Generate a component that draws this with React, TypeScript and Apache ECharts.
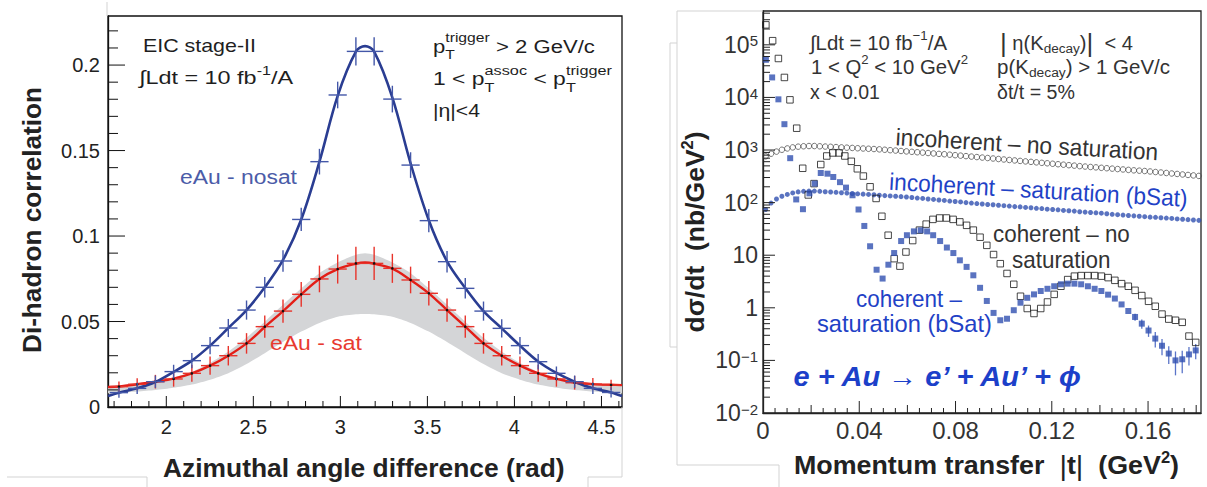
import React, { useEffect, useRef } from 'react';
import * as echarts from 'echarts';

const FONT = '"Liberation Sans", Arial, Helvetica, sans-serif';
const BLUE_TEXT = '#1f42c6';
const BLUE_MARK = '#3150b0';

// ---------------- Left panel: di-hadron correlation ----------------
const LX_MIN = 1.665;
const LX_MAX = 4.618;
const LY_MAX = 0.2287;
const BIN_HALF = 0.0524;

const phiBins = [1.7279, 1.8326, 1.9373, 2.042, 2.1468, 2.2515, 2.3562, 2.4609, 2.5656, 2.6704, 2.7751, 2.8798, 2.9845, 3.0892,
  3.194, 3.2987, 3.4034, 3.5081, 3.6128, 3.7176, 3.8223, 3.927, 4.0317, 4.1364, 4.2412, 4.3459, 4.4506, 4.5553];

const nosatValues = [0.0084, 0.0109, 0.0148, 0.0207, 0.0271, 0.0359, 0.0462, 0.0567, 0.07, 0.0854, 0.1097, 0.1435, 0.1825, 0.208,
  0.208, 0.1801, 0.1415, 0.109, 0.085, 0.0694, 0.0561, 0.046, 0.0359, 0.0265, 0.0197, 0.0148, 0.0109, 0.0085];
const nosatErrors = [0.003, 0.0033, 0.0036, 0.004, 0.0045, 0.005, 0.0053, 0.0056, 0.006, 0.0063, 0.0068, 0.0075, 0.0078, 0.0082,
  0.0082, 0.0078, 0.0075, 0.0068, 0.0063, 0.006, 0.0056, 0.0053, 0.005, 0.0045, 0.004, 0.0036, 0.0033, 0.003];
const satValues = [0.0119, 0.0133, 0.0148, 0.0164, 0.0197, 0.0242, 0.03, 0.0372, 0.047, 0.0561, 0.0659, 0.0749, 0.0807, 0.084,
  0.084, 0.0811, 0.0743, 0.0665, 0.0567, 0.047, 0.0372, 0.03, 0.0242, 0.0197, 0.0164, 0.0142, 0.0134, 0.0129];
const satErrors = [0.003, 0.0035, 0.004, 0.0045, 0.005, 0.0053, 0.0057, 0.006, 0.0065, 0.0068, 0.0072, 0.0078, 0.0085, 0.0097,
  0.0097, 0.0085, 0.0078, 0.0072, 0.0068, 0.0065, 0.006, 0.0057, 0.0053, 0.005, 0.0045, 0.004, 0.0035, 0.003];

// fit curves and band sampled at: left edge, bins 0-13, pi, bins 14-27, right edge
const curveX = [LX_MIN, ...phiBins.slice(0, 14), Math.PI, ...phiBins.slice(14), LX_MAX];
const nosatFit = [0.0064, 0.0084, 0.0109, 0.0146, 0.0205, 0.0271, 0.0359, 0.0462, 0.0567, 0.07, 0.086, 0.1097, 0.1435, 0.182, 0.2078,
  0.2111, 0.2078, 0.181, 0.1425, 0.1092, 0.0852, 0.0696, 0.0561, 0.046, 0.0359, 0.0266, 0.0199, 0.0148, 0.0109, 0.0085, 0.0064];
const satFit = [0.0117, 0.012, 0.0133, 0.0148, 0.0166, 0.0197, 0.0242, 0.03, 0.0372, 0.0468, 0.0561, 0.0659, 0.0749, 0.0807, 0.0838,
  0.0845, 0.0838, 0.0809, 0.0743, 0.0665, 0.0567, 0.047, 0.0372, 0.03, 0.0242, 0.0197, 0.0164, 0.0143, 0.0134, 0.013, 0.0128];
const bandLow = [0.008, 0.0083, 0.009, 0.0099, 0.0112, 0.0131, 0.016, 0.0198, 0.0252, 0.0315, 0.038, 0.0441, 0.0492, 0.0528, 0.0542,
  0.0544, 0.0542, 0.0528, 0.0492, 0.0441, 0.038, 0.0315, 0.0252, 0.0198, 0.016, 0.0131, 0.0112, 0.0099, 0.009, 0.0083, 0.008];
const bandHigh = [0.0121, 0.0125, 0.0137, 0.0152, 0.0172, 0.0207, 0.0258, 0.0324, 0.0405, 0.0499, 0.0598, 0.0694, 0.0783, 0.0845, 0.089,
  0.0899, 0.089, 0.0845, 0.0783, 0.0694, 0.0598, 0.0499, 0.0405, 0.0324, 0.0258, 0.0207, 0.0172, 0.0152, 0.0137, 0.0127, 0.0124];

const leftXMajor = [2, 2.5, 3, 3.5, 4, 4.5];
const leftYMajor = [0.05, 0.1, 0.15, 0.2];

// ---------------- Right panel: d sigma / dt ----------------
const RX_MAX = 0.182;
const RY_MIN = 0.01;
const RY_MAX = 4.4e5;

const incStart = 0.0011;
const incStep = 0.00225;
const incNoSat = [759, 851, 933, 1012, 1072, 1122, 1159, 1180, 1191, 1191,
  1178, 1164, 1151, 1138, 1122, 1109, 1096, 1081, 1069, 1057,
  1045, 1030, 1012, 993, 977, 959, 942, 925, 908, 893,
  877, 861, 845, 832, 815, 798, 782, 766, 750, 735,
  719, 705, 690, 675, 661, 647, 634, 621, 608, 596,
  583, 571, 560, 548, 537, 526, 515, 505, 494, 485,
  476, 468, 459, 451, 443, 435, 427, 419, 411, 405,
  399, 391, 382, 374, 366, 358, 351, 343, 336, 329, 322];
const incSat = [74, 98, 117, 132, 143, 153, 160, 164, 166, 166,
  164, 161, 159, 157, 154, 152, 149, 147, 145, 143,
  141, 138, 136, 134, 132, 130, 128, 125, 122, 120,
  117, 115, 112, 110, 107, 105, 103, 100, 98, 96,
  94, 92, 91, 89, 87.5, 86, 84, 83, 81, 80,
  78, 77, 75, 74, 73, 71, 70, 69, 67, 66,
  65, 64, 63, 61.5, 60, 59, 58, 57, 56, 55,
  54, 53, 52.5, 51.6, 50.8, 50, 49, 48.3, 47.5, 46.8, 46];

const cohNoSatT = [0.0012, 0.004, 0.0064, 0.0089, 0.0112, 0.014, 0.0165, 0.0188, 0.0212, 0.024, 0.0265, 0.029, 0.0316, 0.034, 0.0367,
  0.0392, 0.0417, 0.0445, 0.047, 0.0494, 0.052, 0.0545, 0.0569, 0.0594, 0.0622, 0.065, 0.0678, 0.0706, 0.0734, 0.0762, 0.079, 0.0818,
  0.0846, 0.0874, 0.0902, 0.093, 0.0958, 0.0986, 0.1014, 0.1042, 0.107, 0.1098, 0.1126, 0.1154, 0.1182, 0.121, 0.1238, 0.1266,
  0.1294, 0.1322, 0.135, 0.1378, 0.1406, 0.1434, 0.1462, 0.149, 0.1518, 0.1546, 0.1574, 0.1602, 0.163, 0.1658, 0.1686, 0.1714,
  0.1742, 0.177, 0.1798];
const cohNoSatV = [240000, 120000, 55000, 24000, 9000, 2600, 450, 140, 230, 530, 770, 880, 880, 770, 610, 440, 320, 200, 120, 55,
  24, 8.6, 6.2, 11.5, 19, 30, 39, 48, 51, 51, 48, 43, 37, 30, 22, 15.4, 10.3, 6.9, 4.5, 2.8, 1.66, 0.97, 0.78, 0.97, 1.29, 1.8,
  2.57, 3.44, 4.0, 4.1, 4.1, 4.1, 4.0, 3.75, 3.33, 2.88, 2.57, 2.15, 1.71, 1.33, 1.07, 0.76, 0.61, 0.58, 0.53, 0.29, 0.22];

const cohSatT = [0.0012, 0.0038, 0.0064, 0.0089, 0.0113, 0.0138, 0.0166, 0.0193, 0.0215, 0.024, 0.0268, 0.0292, 0.032, 0.0345,
  0.0372, 0.0397, 0.0421, 0.0445, 0.0472, 0.0497, 0.0521, 0.0545, 0.0574, 0.0598, 0.0627, 0.0655, 0.0682, 0.0707, 0.0736, 0.0764,
  0.0791, 0.0818, 0.0846, 0.0874, 0.0902, 0.093, 0.0958, 0.0986, 0.1014, 0.1042, 0.107, 0.1098, 0.1126, 0.1154, 0.1182, 0.121,
  0.1238, 0.1266, 0.1294, 0.1322, 0.135, 0.1378, 0.1406, 0.1434, 0.1462, 0.149, 0.1518, 0.1546, 0.1574, 0.1602, 0.163, 0.1658,
  0.1686, 0.1714, 0.1742, 0.177, 0.1798];
const cohSatV = [52000, 24000, 9200, 3100, 700, 115, 75, 150, 230, 366, 355, 307, 245, 193, 138, 74, 36, 14.8, 5.3, 3.6, 6.6, 11,
  18.6, 24, 28.4, 29.7, 28.4, 24, 18.6, 14, 11, 8, 6, 4.15, 2.4, 1.35, 0.8, 0.58, 0.62, 0.9, 1.25, 1.55, 1.8, 2.09, 2.3, 2.57, 2.8,
  2.88, 2.88, 2.8, 2.57, 2.3, 2.09, 1.78, 1.5, 1.16, 0.87, 0.67, 0.5, 0.37, 0.26, 0.19, 0.135, 0.1, 0.105, 0.13, 0.155];
// error bars of the last ten coherent-saturation points
const cohSatErrTail = [0.1, 0.1, 0.09, 0.085, 0.065, 0.05, 0.048, 0.048, 0.05, 0.05];

const rightXMajor = [0.04, 0.08, 0.12, 0.16];
const rightXMedium = [0.02, 0.06, 0.1, 0.14, 0.18];
const rightYMajorExp = [-1, 0, 1, 2, 3, 4, 5];

// ---------------- helpers ----------------
let ctx: CanvasRenderingContext2D | null = null;
function measure(text: string, size: number, weight = 'normal', style = 'normal') {
  if (!ctx) ctx = document.createElement('canvas').getContext('2d');
  ctx!.font = `${style} ${weight} ${size}px ${FONT}`;
  return ctx!.measureText(text).width;
}

type Piece = { t?: string; sup?: string; sub?: string; size?: number; ss?: number; supDy?: number; subDy?: number; weight?: string; style?: string; color?: string; dy?: number };
interface LineOpts { x: number; y: number; pieces: Piece[]; size: number; color: string; weight?: string; style?: string; width?: number; center?: boolean; rotation?: number }

function mkText(text: string, x: number, y: number, size: number, weight: string, style: string, color: string) {
  return {
    type: 'text', x, y, z: 50, silent: true,
    style: { text, fontSize: size, fontFamily: FONT, fontWeight: weight, fontStyle: style, fill: color,
      textAlign: 'left', textVerticalAlign: 'middle', align: 'left', verticalAlign: 'middle' },
  };
}

function textLine(o: LineOpts) {
  const kids: any[] = [];
  let cx = 0;
  for (const p of o.pieces) {
    const w = p.weight ?? o.weight ?? 'normal';
    const s = p.style ?? o.style ?? 'normal';
    const col = p.color ?? o.color;
    if (p.t !== undefined) {
      const sz = p.size ?? o.size;
      kids.push(mkText(p.t, cx, p.dy ?? 0, sz, w, s, col));
      cx += measure(p.t, sz, w, s);
    } else {
      const ss = p.ss ?? o.size * 0.7;
      let adv = 0;
      if (p.sup) { kids.push(mkText(p.sup, cx, p.supDy ?? -o.size * 0.45, ss, w, s, col)); adv = Math.max(adv, measure(p.sup, ss, w, s)); }
      if (p.sub) { kids.push(mkText(p.sub, cx, p.subDy ?? o.size * 0.42, ss, w, s, col)); adv = Math.max(adv, measure(p.sub, ss, w, s)); }
      cx += adv;
    }
  }
  if (o.center) kids.forEach((k) => { k.x -= cx / 2; });
  return { type: 'group', x: o.x, y: o.y, rotation: o.rotation ?? 0, scaleX: o.width ? o.width / cx : 1, z: 50, silent: true, children: kids };
}

function tickSeries(xi: number, yi: number, values: number[], axis: 'x' | 'y', base: number, len: number, color: string) {
  return {
    type: 'custom', xAxisIndex: xi, yAxisIndex: yi, silent: true, clip: false, z: 6,
    data: values.map((v) => (axis === 'x' ? [v, base] : [base, v])),
    encode: { x: 0, y: 1 },
    renderItem: (_p: any, api: any) => {
      const pt = api.coord([api.value(0), api.value(1)]);
      const shape = axis === 'x'
        ? { x1: pt[0], y1: pt[1], x2: pt[0], y2: pt[1] - len }
        : { x1: pt[0], y1: pt[1], x2: pt[0] + len, y2: pt[1] };
      return { type: 'line', shape, style: { stroke: color, lineWidth: 1 } };
    },
  };
}

function crossSeries(values: number[], errors: number[], color: string, dot: boolean) {
  return {
    type: 'custom', xAxisIndex: 0, yAxisIndex: 0, silent: true, z: 4,
    data: phiBins.map((x, i) => [x, values[i], errors[i]]),
    encode: { x: 0, y: 1 },
    renderItem: (_p: any, api: any) => {
      const x = api.value(0), y = api.value(1), e = api.value(2);
      const c = api.coord([x, y]);
      const l = api.coord([x - BIN_HALF, y]);
      const r = api.coord([x + BIN_HALF, y]);
      const t = api.coord([x, y + e]);
      const b = api.coord([x, y - e]);
      const st = { stroke: color, lineWidth: 1.4 };
      const children: any[] = [
        { type: 'line', shape: { x1: l[0], y1: c[1], x2: r[0], y2: c[1] }, style: st },
        { type: 'line', shape: { x1: c[0], y1: t[1], x2: c[0], y2: b[1] }, style: st },
      ];
      if (dot) children.push({ type: 'circle', shape: { cx: c[0], cy: c[1], r: 1.3 }, style: { fill: '#111' } });
      return { type: 'group', children };
    },
  };
}

function bandSeries() {
  return {
    type: 'custom', xAxisIndex: 0, yAxisIndex: 0, silent: true, clip: true, z: 1,
    data: [[curveX[0], bandLow[0]]],
    encode: { x: 0, y: 1 },
    renderItem: (_p: any, api: any) => {
      const upper = curveX.map((x, i) => api.coord([x, bandHigh[i]]));
      const lower = curveX.map((x, i) => api.coord([x, bandLow[i]])).reverse();
      return {
        type: 'group',
        children: [
          { type: 'polygon', shape: { points: [...upper, ...lower], smooth: 0.25 }, style: { fill: '#d4d5d7' } },
        ],
      };
    },
  };
}

function buildOption() {
  const leftXMinor: number[] = [];
  for (let i = 17; i <= 46; i++) if (i % 5 !== 0) leftXMinor.push(i / 10);
  const leftYMinor: number[] = [];
  for (let i = 1; i <= 22; i++) if (i % 5 !== 0) leftYMinor.push(i / 100);
  const rightXMinor: number[] = [];
  for (let i = 1; i <= 36; i++) if (i % 4 !== 0) rightXMinor.push(i * 0.005);
  const rightYMajor = rightYMajorExp.map((e) => Math.pow(10, e));
  const rightYMinor: number[] = [];
  for (let e = -2; e <= 5; e++) for (let m = 2; m <= 9; m++) { const v = m * Math.pow(10, e); if (v < RY_MAX) rightYMinor.push(v); }

  const incT = incNoSat.map((_, i) => incStart + i * incStep);
  const errOffset = cohSatV.length - cohSatErrTail.length;

  const axisLineL = { show: true, onZero: false, lineStyle: { color: '#111', width: 1.3 } };
  const axisLineR = { show: true, onZero: false, lineStyle: { color: '#222', width: 1.3 } };

  const graphic: any[] = [];
  // left annotations
  const LC = '#1e1e1e';
  graphic.push(textLine({ x: 143, y: 45, pieces: [{ t: 'EIC stage-II' }], size: 19, color: LC, width: 113 }));
  graphic.push(textLine({ x: 139, y: 78, pieces: [{ t: '\u222BLdt = 10 fb' }, { sup: '-1', ss: 13, supDy: -7 }, { t: '/A' }], size: 19, color: LC, width: 154 }));
  graphic.push(textLine({ x: 433, y: 46, pieces: [{ t: 'p' }, { sup: 'trigger', sub: 'T', ss: 13.5, supDy: -9, subDy: 8 }, { t: ' > 2 GeV/c' }], size: 19, color: LC, width: 162 }));
  graphic.push(textLine({ x: 433, y: 78, pieces: [{ t: '1 < p' }, { sup: 'assoc', sub: 'T', ss: 13.5, supDy: -8, subDy: 9 }, { t: ' < p' }, { sup: 'trigger', sub: 'T', ss: 13.5, supDy: -8, subDy: 9 }], size: 19, color: LC, width: 179 }));
  graphic.push(textLine({ x: 433, y: 110, pieces: [{ t: '|\u03B7|<4' }], size: 19, color: LC, width: 47 }));
  graphic.push(textLine({ x: 180, y: 178, pieces: [{ t: 'eAu - nosat' }], size: 19.5, color: '#4b5ca8', width: 117 }));
  graphic.push(textLine({ x: 270, y: 344, pieces: [{ t: 'eAu - sat' }], size: 19.5, color: '#e83a30', width: 92 }));
  graphic.push(textLine({ x: 32, y: 220, pieces: [{ t: 'Di-hadron correlation' }], size: 25.5, weight: 'bold', color: '#222', width: 266, center: true, rotation: Math.PI / 2 }));
  graphic.push(textLine({ x: 364, y: 468, pieces: [{ t: 'Azimuthal angle difference (rad)' }], size: 25.5, weight: 'bold', color: '#222', width: 402, center: true }));

  // right annotations
  const RC = '#333';
  graphic.push(textLine({ x: 810, y: 43, pieces: [{ t: '\u222BLdt = 10 fb' }, { sup: '\u22121', ss: 13, supDy: -7 }, { t: '/A' }], size: 20, color: RC, width: 137 }));
  graphic.push(textLine({ x: 811, y: 67, pieces: [{ t: '1 < Q' }, { sup: '2', ss: 13, supDy: -7 }, { t: ' < 10 GeV' }, { sup: '2', ss: 13, supDy: -7 }], size: 20, color: RC, width: 157 }));
  graphic.push(textLine({ x: 810, y: 92, pieces: [{ t: 'x < 0.01' }], size: 20, color: RC, width: 70 }));
  graphic.push(textLine({ x: 1000, y: 43, pieces: [{ t: '|', size: 26 }, { t: ' \u03B7(K' }, { sub: 'decay', ss: 13.5, subDy: 6 }, { t: ')' }, { t: '|', size: 26 }, { t: '  < 4' }], size: 20, color: RC, width: 133 }));
  graphic.push(textLine({ x: 997, y: 67, pieces: [{ t: 'p(K' }, { sub: 'decay', ss: 13.5, subDy: 6 }, { t: ') > 1 GeV/c' }], size: 20, color: RC, width: 173 }));
  graphic.push(textLine({ x: 997, y: 92, pieces: [{ t: '\u03B4t/t = 5%' }], size: 20, color: RC, width: 78 }));
  graphic.push(textLine({ x: 1027, y: 144.5, pieces: [{ t: 'incoherent \u2013 no saturation' }], size: 24, color: RC, width: 263, center: true, rotation: -0.057 }));
  graphic.push(textLine({ x: 1038.5, y: 190, pieces: [{ t: 'incoherent \u2013 saturation (bSat)' }], size: 24, color: BLUE_TEXT, width: 299, center: true, rotation: -0.057 }));
  graphic.push(textLine({ x: 993, y: 234, pieces: [{ t: 'coherent \u2013 no' }], size: 24, color: RC, width: 137 }));
  graphic.push(textLine({ x: 1012, y: 260, pieces: [{ t: 'saturation' }], size: 24, color: RC, width: 98.5 }));
  graphic.push(textLine({ x: 856, y: 299, pieces: [{ t: 'coherent \u2013' }], size: 24, color: BLUE_TEXT, width: 106 }));
  graphic.push(textLine({ x: 817, y: 323, pieces: [{ t: 'saturation (bSat)' }], size: 24, color: BLUE_TEXT, width: 175 }));
  graphic.push(textLine({ x: 793.5, y: 377, pieces: [{ t: 'e + Au \u2192 e\u2019 + Au\u2019 + \u03D5' }], size: 27, weight: 'bold', style: 'italic', color: '#1c40c9', width: 292 }));
  graphic.push(textLine({ x: 695, y: 232, pieces: [{ t: 'd\u03C3/dt  (nb/GeV' }, { sup: '2', ss: 16, supDy: -8 }, { t: ')' }], size: 26, weight: 'bold', color: '#222', width: 201, center: true, rotation: Math.PI / 2 }));
  graphic.push(textLine({ x: 794, y: 465, pieces: [{ t: 'Momentum transfer  ' }, { t: '|', size: 28, weight: 'normal' }, { t: 't' }, { t: '|', size: 28, weight: 'normal' }, { t: '  (GeV' }, { sup: '2', ss: 16, supDy: -8 }, { t: ')' }], size: 26, weight: 'bold', color: '#222', width: 385 }));

  // faint slide frame lines
  const faint = [
    [107, 2, 107, 16], [7, 477, 147, 477], [147, 477, 147, 487],
    [622, 407, 622, 477], [588, 477, 622, 477], [588, 477, 588, 487],
    [677, 11, 763, 11], [677, 11, 677, 465], [677, 465, 779, 465], [779, 465, 779, 487],
    [670, 43, 670, 347], [670, 43, 677, 43], [670, 347, 677, 347],
  ];
  faint.forEach(([x1, y1, x2, y2]) => graphic.push({ type: 'line', z: 1, silent: true, shape: { x1, y1, x2, y2 }, style: { stroke: '#d3d3d3', lineWidth: 1 } }));

  const lineBase = { type: 'line', xAxisIndex: 0, yAxisIndex: 0, symbol: 'none', silent: true, smooth: 0.35 };

  return {
    animation: false,
    backgroundColor: '#ffffff',
    grid: [
      { left: 108, top: 16, width: 514, height: 391, show: true, borderColor: '#111', borderWidth: 1.3, backgroundColor: 'transparent' },
      { left: 763, top: 11, width: 438, height: 402, show: true, borderColor: '#222', borderWidth: 1.3, backgroundColor: 'transparent' },
    ],
    xAxis: [
      {
        type: 'value', gridIndex: 0, min: LX_MIN, max: LX_MAX, splitNumber: 6,
        axisLine: axisLineL, axisTick: { show: false }, splitLine: { show: false },
        axisLabel: {
          fontSize: 20, color: '#222', fontFamily: FONT, margin: 10, showMinLabel: false, showMaxLabel: false,
          formatter: (v: number) => (Math.abs(v * 2 - Math.round(v * 2)) < 1e-6 ? String(Math.round(v * 2) / 2) : ''),
        },
      },
      {
        type: 'value', gridIndex: 1, min: 0, max: RX_MAX, interval: 0.04,
        axisLine: axisLineR, axisTick: { show: false }, splitLine: { show: false },
        axisLabel: {
          fontSize: 24, color: '#333', fontFamily: FONT, margin: 5, showMaxLabel: false,
          formatter: (v: number) => (v === 0 ? '0' : Math.abs(v / 0.04 - Math.round(v / 0.04)) < 1e-6 ? v.toFixed(2) : ''),
        },
      },
    ],
    yAxis: [
      {
        type: 'value', gridIndex: 0, min: 0, max: LY_MAX, interval: 0.05,
        axisLine: axisLineL, axisTick: { show: false }, splitLine: { show: false },
        axisLabel: {
          fontSize: 20, color: '#222', fontFamily: FONT, margin: 8, showMaxLabel: false,
          formatter: (v: number) => { const r = Math.round(v * 20) / 20; return Math.abs(v - r) < 1e-9 ? String(r) : ''; },
        },
      },
      {
        type: 'log', logBase: 10, gridIndex: 1, min: RY_MIN, max: RY_MAX, splitNumber: 8,
        axisLine: axisLineR, axisTick: { show: false }, splitLine: { show: false },
        axisLabel: {
          margin: 5, showMaxLabel: false,
          formatter: (v: number) => {
            const e = Math.round(Math.log10(v));
            if (Math.abs(Math.log10(v) - e) > 1e-6) return '';
            if (e === 0) return '{b|1}';
            if (e === 1) return '{b|10}';
            return `{b|10}{s|${e < 0 ? '\u2212' + -e : e}}`;
          },
          rich: {
            b: { fontSize: 23, lineHeight: 23, fontFamily: FONT, color: '#333' },
            s: { fontSize: 15, lineHeight: 15, verticalAlign: 'top', fontFamily: FONT, color: '#333' },
          },
        },
      },
    ],
    series: [
      bandSeries(),
      { ...lineBase, z: 3, lineStyle: { color: '#e31e17', width: 2.4 }, data: curveX.map((x, i) => [x, satFit[i]]) },
      { ...lineBase, z: 3, lineStyle: { color: '#2a3d92', width: 2.6 }, data: curveX.map((x, i) => [x, nosatFit[i]]) },
      crossSeries(satValues, satErrors, '#e8332b', true),
      crossSeries(nosatValues, nosatErrors, '#4357a8', false),
      tickSeries(0, 0, leftXMajor, 'x', 0, 11, '#111'),
      tickSeries(0, 0, leftXMinor, 'x', 0, 6, '#111'),
      tickSeries(0, 0, leftYMajor, 'y', LX_MIN, 17, '#111'),
      tickSeries(0, 0, leftYMinor, 'y', LX_MIN, 10, '#111'),

      // right panel
      { type: 'scatter', xAxisIndex: 1, yAxisIndex: 1, silent: true, z: 3, symbol: 'circle', symbolSize: 5.5,
        itemStyle: { color: 'rgba(255,255,255,0)', borderColor: '#555', borderWidth: 1 },
        data: incT.map((t, i) => [t, incNoSat[i]]) },
      { type: 'scatter', xAxisIndex: 1, yAxisIndex: 1, silent: true, z: 3, symbol: 'circle', symbolSize: 5,
        itemStyle: { color: BLUE_MARK }, data: incT.map((t, i) => [t, incSat[i]]) },
      { type: 'scatter', xAxisIndex: 1, yAxisIndex: 1, silent: true, z: 4, symbol: 'rect', symbolSize: 6.5,
        itemStyle: { color: 'rgba(255,255,255,0)', borderColor: '#1a1a1a', borderWidth: 1 },
        data: cohNoSatT.map((t, i) => [t, cohNoSatV[i]]) },
      {
        type: 'custom', xAxisIndex: 1, yAxisIndex: 1, silent: true, z: 4,
        data: cohSatErrTail.map((e, i) => [cohSatT[errOffset + i], cohSatV[errOffset + i], e]),
        encode: { x: 0, y: 1 },
        renderItem: (_p: any, api: any) => {
          const t = api.value(0), v = api.value(1), e = api.value(2);
          const a = api.coord([t, v + e]);
          const b = api.coord([t, v - e]);
          return { type: 'line', shape: { x1: a[0], y1: a[1], x2: b[0], y2: b[1] }, style: { stroke: '#5a74c8', lineWidth: 1.3 } };
        },
      },
      { type: 'scatter', xAxisIndex: 1, yAxisIndex: 1, silent: true, z: 5, symbol: 'rect', symbolSize: 6,
        itemStyle: { color: BLUE_MARK }, data: cohSatT.map((t, i) => [t, cohSatV[i]]) },
      tickSeries(1, 1, rightXMajor, 'x', RY_MIN, 12, '#222'),
      tickSeries(1, 1, rightXMedium, 'x', RY_MIN, 8, '#222'),
      tickSeries(1, 1, rightXMinor, 'x', RY_MIN, 5, '#222'),
      tickSeries(1, 1, rightYMajor, 'y', 0, 12, '#222'),
      tickSeries(1, 1, rightYMinor, 'y', 0, 7, '#222'),
    ],
    graphic,
  };
}

export default function App() {
  const ref = useRef<HTMLDivElement>(null);
  useEffect(() => {
    const chart = echarts.init(ref.current!, null, { renderer: 'svg' });
    chart.setOption(buildOption() as any);
    return () => chart.dispose();
  }, []);
  return <div ref={ref} style={{ position: 'fixed', left: 0, top: 0, width: 1207, height: 487, background: '#fff' }} />;
}
